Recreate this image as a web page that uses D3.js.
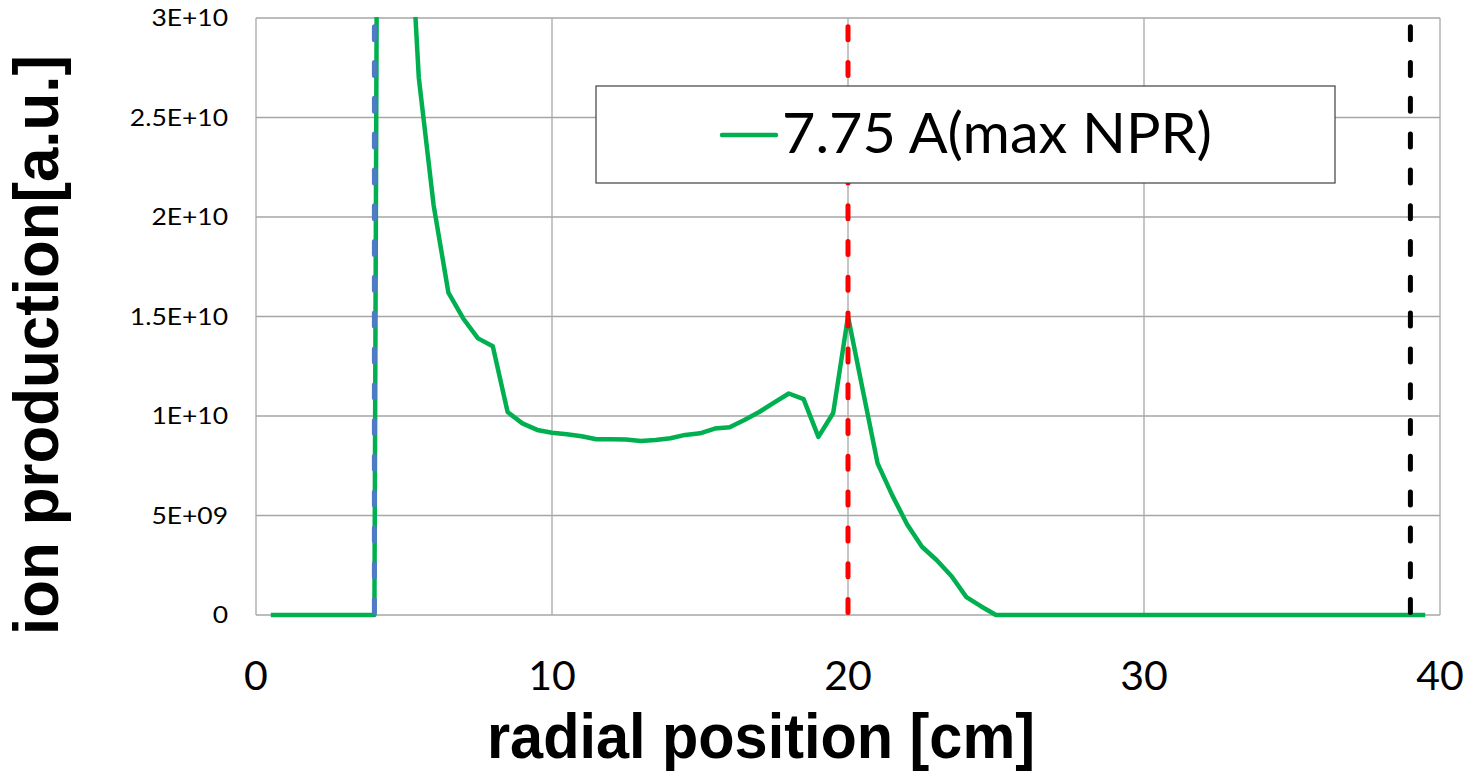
<!DOCTYPE html>
<html>
<head>
<meta charset="utf-8">
<script src="https://cdn.jsdelivr.net/npm/d3@7"></script>
<style>
  html, body { margin: 0; padding: 0; background: #fff; }
  svg { display: block; }
</style>
</head>
<body>
<svg id="chart" width="1472" height="778"></svg>
<script>
// Radial positions [cm]
const radialPosition = [
  0.5, 1, 1.5, 2, 2.5, 3, 3.5, 4, 4.5, 5,
  5.5, 6, 6.5, 7, 7.5, 8, 8.5, 9, 9.5, 10,
  10.5, 11, 11.5, 12, 12.5, 13, 13.5, 14, 14.5, 15,
  15.5, 16, 16.5, 17, 17.5, 18, 18.5, 19, 19.5, 20,
  20.5, 21, 21.5, 22, 22.5, 23, 23.5, 24, 24.5, 25,
  25.5, 26, 26.5, 27, 27.5, 28, 28.5, 29, 29.5, 30,
  30.5, 31, 31.5, 32, 32.5, 33, 33.5, 34, 34.5, 35,
  35.5, 36, 36.5, 37, 37.5, 38, 38.5, 39, 39.5
];

// Ion production [a.u.] for 7.75 A (max NPR)
const ionProduction = [
  0, 0, 0, 0, 0, 0, 0, 0, 2.0e11, 4.05e10,
  2.70e10, 2.06e10, 1.62e10, 1.49e10, 1.39e10, 1.35e10, 1.02e10, 0.963e10, 0.93e10, 0.916e10,
  0.908e10, 0.898e10, 0.883e10, 0.883e10, 0.882e10, 0.874e10, 0.879e10, 0.888e10, 0.905e10, 0.913e10,
  0.937e10, 0.943e10, 0.98e10, 1.02e10, 1.067e10, 1.113e10, 1.085e10, 0.895e10, 1.015e10, 1.50e10,
  1.13e10, 0.762e10, 0.60e10, 0.455e10, 0.343e10, 0.275e10, 0.195e10, 0.09e10, 0.043e10, 0,
  0, 0, 0, 0, 0, 0, 0, 0, 0, 0,
  0, 0, 0, 0, 0, 0, 0, 0, 0, 0,
  0, 0, 0, 0, 0, 0, 0, 0, 0
];

const seriesName = "7.75 A(max NPR)";

// Vertical reference markers [cm]
const markerPositions = [4, 20, 39];
const markerColors = ["#4F7AC6", "#FF0000", "#000000"];

const xTicks = [0, 10, 20, 30, 40];
const yTicks = [0, 5e9, 1e10, 1.5e10, 2e10, 2.5e10, 3e10];
const yTickLabels = ["0", "5E+09", "1E+10", "1.5E+10", "2E+10", "2.5E+10", "3E+10"];

const xTitle = "radial position [cm]";
const yTitle = "ion production[a.u.]";

// ---- layout ----
const plot = { left: 256, top: 18, right: 1440, bottom: 615 };

const svg = d3.select("#chart");

const x = d3.scaleLinear().domain([0, 40]).range([plot.left, plot.right]);
const y = d3.scaleLinear().domain([0, 3e10]).range([plot.bottom, plot.top]);

const gridColor = "#A6A6A6";

// horizontal gridlines
svg.append("g")
  .selectAll("line")
  .data(yTicks)
  .join("line")
  .attr("x1", plot.left).attr("x2", plot.right)
  .attr("y1", d => y(d)).attr("y2", d => y(d))
  .attr("stroke", gridColor).attr("stroke-width", 1.3);

// vertical gridlines
svg.append("g")
  .selectAll("line")
  .data(xTicks)
  .join("line")
  .attr("x1", d => x(d)).attr("x2", d => x(d))
  .attr("y1", plot.top).attr("y2", plot.bottom)
  .attr("stroke", gridColor).attr("stroke-width", 1.3);

// y tick labels (wide face, stretched horizontally)
const yLab = svg.append("g");
yTicks.forEach((t, i) => {
  yLab.append("g")
    .attr("transform", `translate(228,${y(t)}) scale(1.15,1)`)
    .append("text")
    .attr("x", 0).attr("y", 0)
    .attr("dy", "0.36em")
    .attr("text-anchor", "end")
    .attr("font-family", "Lato, 'Open Sans', sans-serif")
    .attr("font-size", 23)
    .attr("fill", "#000")
    .text(yTickLabels[i]);
});

// x tick labels
svg.append("g")
  .selectAll("text")
  .data(xTicks)
  .join("text")
  .attr("x", d => x(d))
  .attr("y", 690)
  .attr("text-anchor", "middle")
  .attr("font-family", "Lato, 'Open Sans', sans-serif")
  .attr("font-size", 41)
  .attr("fill", "#000")
  .text(d => d);

// clip to plot area
svg.append("defs").append("clipPath").attr("id", "plotClip")
  .append("rect")
  .attr("x", plot.left).attr("y", plot.top - 1)
  .attr("width", plot.right - plot.left).attr("height", plot.bottom - plot.top + 4);

// data line
const line = d3.line()
  .x((d, i) => x(radialPosition[i]))
  .y(d => y(d));

svg.append("path")
  .datum(ionProduction)
  .attr("clip-path", "url(#plotClip)")
  .attr("d", line)
  .attr("fill", "none")
  .attr("stroke", "#00B050")
  .attr("stroke-width", 4.5)
  .attr("stroke-linejoin", "round");

// dashed vertical markers, dashes laid out from the bottom up
svg.append("g")
  .selectAll("line")
  .data(markerPositions)
  .join("line")
  .attr("x1", d => x(d)).attr("x2", d => x(d))
  .attr("y1", y(0)).attr("y2", y(3e10))
  .attr("stroke", (d, i) => markerColors[i])
  .attr("stroke-width", 5)
  .attr("stroke-linecap", "round")
  .attr("stroke-dasharray", "13 22.8")
  .attr("stroke-dashoffset", -2.5);

// legend
const legend = svg.append("g");
legend.append("rect")
  .attr("x", 596).attr("y", 86)
  .attr("width", 739).attr("height", 97)
  .attr("fill", "#fff")
  .attr("stroke", "#404040")
  .attr("stroke-width", 1.2);
legend.append("line")
  .attr("x1", 722).attr("x2", 776)
  .attr("y1", 135).attr("y2", 135)
  .attr("stroke", "#00B050")
  .attr("stroke-width", 4.5)
  .attr("stroke-linecap", "round");
legend.append("text")
  .attr("x", 782).attr("y", 153)
  .attr("font-family", "Lato, 'Open Sans', sans-serif")
  .attr("font-size", 56)
  .attr("textLength", 430)
  .attr("lengthAdjust", "spacingAndGlyphs")
  .attr("fill", "#000")
  .text(seriesName);

// axis titles
svg.append("text")
  .attr("x", 761).attr("y", 758)
  .attr("text-anchor", "middle")
  .attr("font-family", "'Liberation Sans', Arial, sans-serif")
  .attr("font-weight", "bold")
  .attr("font-size", 63)
  .attr("textLength", 548)
  .attr("lengthAdjust", "spacingAndGlyphs")
  .attr("fill", "#000")
  .text(xTitle);

svg.append("text")
  .attr("transform", "translate(58,345) rotate(-90)")
  .attr("text-anchor", "middle")
  .attr("font-family", "'Liberation Sans', Arial, sans-serif")
  .attr("font-weight", "bold")
  .attr("font-size", 63)
  .attr("textLength", 580)
  .attr("lengthAdjust", "spacingAndGlyphs")
  .attr("fill", "#000")
  .text(yTitle);
</script>
</body>
</html>
